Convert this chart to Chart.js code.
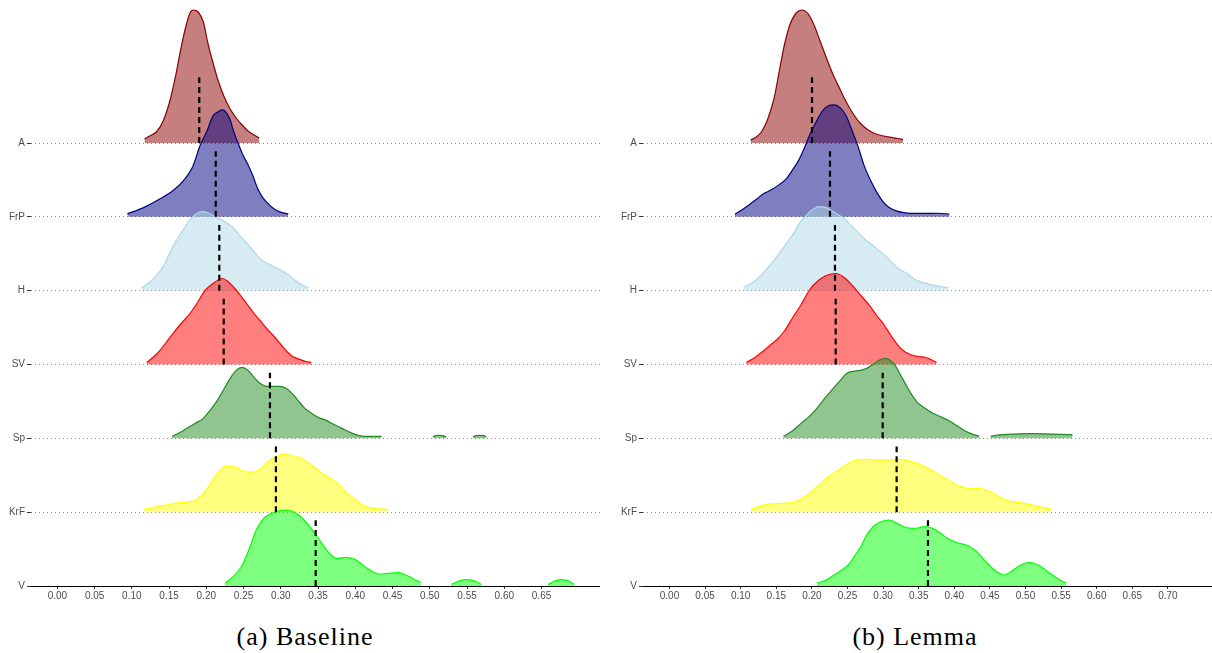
<!DOCTYPE html>
<html>
<head>
<meta charset="utf-8">
<script src="https://cdn.jsdelivr.net/npm/chart.js@4.4.1/dist/chart.umd.min.js"></script>
<style>
  html, body { margin: 0; padding: 0; background: #fff; width: 1212px; height: 653px; overflow: hidden; }
  body { position: relative; }
  .panel { position: absolute; top: 0; height: 604px; }
  #leftPanel { left: 0; width: 600px; }
  #rightPanel { left: 606px; width: 606px; }
  .cap { position: absolute; top: 624px; font-family: "Liberation Serif", "Times New Roman", serif; font-size: 26px;
         line-height: 26px; letter-spacing: 1px; color: #000; white-space: nowrap; transform: translateX(-50%); }
</style>
</head>
<body>
<div class="panel" id="leftPanel"><canvas id="chartBaseline"></canvas></div>
<div class="panel" id="rightPanel"><canvas id="chartLemma"></canvas></div>
<div class="cap" id="capLeft" style="left:305px"></div>
<div class="cap" id="capRight" style="left:915px"></div>
<script>
// ---- categories (top ridge first) ----
const groups = ['A', 'FrP', 'H', 'SV', 'Sp', 'KrF', 'V'];
const captions = ['(a) Baseline', '(b) Lemma'];

// ---- x tick labels ----
const baselineTicks = ['0.00','0.05','0.10','0.15','0.20','0.25','0.30','0.35','0.40','0.45','0.50','0.55','0.60','0.65'];
const lemmaTicks = ['0.00','0.05','0.10','0.15','0.20','0.25','0.30','0.35','0.40','0.45','0.50','0.55','0.60','0.65','0.70'];

// ---- group means (dashed markers) ----
const baselineMeans = [0.1905, 0.2126, 0.2174, 0.2233, 0.2854, 0.2934, 0.3468];
const lemmaMeans    = [0.2001, 0.2254, 0.2324, 0.2334, 0.2994, 0.3190, 0.3630];

// ---- density estimates, baseline system ----
const baseA_x = [0.117,0.124,0.134,0.142,0.151,0.159,0.166,0.173,0.178,0.183,0.189,0.196,0.202,0.209,0.216,0.224,0.232,0.240,0.248,0.256,0.264,0.271];
const baseA_d = [0.4,0.7,1.2,2.2,4.2,6.8,9.5,11.8,13.0,13.3,13.1,12.1,10.0,8.0,6.2,4.6,3.4,2.5,1.8,1.2,0.8,0.5];

const baseFrP_x = [0.094,0.115,0.138,0.155,0.169,0.181,0.192,0.201,0.209,0.216,0.221,0.226,0.232,0.236,0.243,0.249,0.256,0.263,0.269,0.276,0.286,0.295,0.303,0.310];
const baseFrP_d = [0.3,0.9,1.8,2.6,3.6,4.9,7.2,8.6,10.1,10.5,10.7,10.5,9.7,8.7,7.3,6.2,5.2,4.0,2.8,1.9,1.1,0.6,0.4,0.3];

const baseH_x = [0.113,0.128,0.142,0.155,0.169,0.178,0.187,0.196,0.205,0.214,0.225,0.236,0.245,0.255,0.263,0.272,0.280,0.288,0.299,0.310,0.320,0.328,0.337];
const baseH_d = [0.3,1.1,2.4,4.4,6.1,7.1,7.7,7.9,7.7,7.3,6.9,6.3,5.5,4.7,4.0,3.2,2.8,2.5,2.1,1.6,1.0,0.6,0.3];

const baseSV_x = [0.120,0.134,0.151,0.165,0.178,0.189,0.198,0.209,0.217,0.222,0.229,0.237,0.245,0.255,0.263,0.272,0.281,0.291,0.299,0.308,0.316,0.326,0.334,0.341];
const baseSV_d = [0.2,1.1,2.7,4.0,5.1,6.3,7.4,8.1,8.5,8.6,8.3,7.7,7.0,6.0,5.2,4.4,3.6,2.8,2.1,1.3,0.8,0.5,0.3,0.2];

const baseSp_x = [0.154,0.165,0.174,0.185,0.196,0.205,0.214,0.222,0.232,0.240,0.248,0.256,0.264,0.272,0.281,0.290,0.299,0.307,0.315,0.323,0.331,0.341,0.350,0.361,0.371,0.382,0.393,0.404,0.414,0.425,0.435];
const baseSp_d = [0.2,0.6,1.0,1.5,2.0,2.8,3.7,4.7,6.0,6.8,7.1,6.8,6.1,5.5,5.2,5.2,5.2,5.0,4.5,3.8,3.1,2.5,2.1,1.8,1.4,1.0,0.6,0.3,0.2,0.2,0.2];
const baseSpB_x = [0.504,0.508,0.513,0.517,0.522];
const baseSpB_d = [0.15,0.28,0.30,0.28,0.15];
const baseSpC_x = [0.558,0.562,0.567,0.572,0.576];
const baseSpC_d = [0.15,0.28,0.30,0.28,0.15];

const baseKrF_x = [0.116,0.131,0.145,0.159,0.175,0.185,0.194,0.205,0.213,0.221,0.230,0.239,0.247,0.255,0.263,0.271,0.279,0.287,0.295,0.304,0.312,0.323,0.334,0.345,0.355,0.366,0.377,0.386,0.396,0.406,0.416,0.426,0.436,0.444];
const baseKrF_d = [0.27,0.5,0.7,0.9,1.03,1.2,1.7,2.8,3.7,4.4,4.6,4.5,4.2,4.0,4.0,4.3,4.8,5.3,5.6,5.8,5.7,5.5,5.1,4.5,3.9,3.4,2.8,2.1,1.5,0.9,0.5,0.35,0.3,0.27];

const baseV_x = [0.225,0.236,0.247,0.257,0.267,0.277,0.286,0.293,0.300,0.308,0.316,0.324,0.331,0.339,0.347,0.355,0.365,0.375,0.388,0.401,0.409,0.416,0.424,0.432,0.440,0.447,0.457,0.465,0.473,0.480,0.488];
const baseV_d = [0.27,0.93,1.93,3.6,5.6,6.77,7.2,7.43,7.55,7.6,7.45,7.1,6.6,5.93,5.1,4.27,3.27,2.77,2.87,2.6,2.15,1.77,1.4,1.2,1.23,1.28,1.33,1.18,0.93,0.62,0.37];
const baseVB_x = [0.529,0.536,0.543,0.549,0.556,0.563,0.569];
const baseVB_d = [0.15,0.40,0.58,0.63,0.58,0.40,0.15];
const baseVC_x = [0.659,0.665,0.671,0.677,0.683,0.689,0.694];
const baseVC_d = [0.15,0.40,0.58,0.63,0.58,0.40,0.15];

// ---- density estimates, lemma system ----
const lemA_x = [0.114,0.122,0.130,0.138,0.147,0.155,0.162,0.169,0.178,0.186,0.195,0.203,0.211,0.221,0.230,0.240,0.249,0.259,0.269,0.279,0.290,0.301,0.313,0.321,0.328];
const lemA_d = [0.3,0.6,1.2,2.4,4.5,7.5,10.0,11.8,13.0,13.3,12.9,11.8,10.3,8.4,6.8,5.3,4.0,2.8,1.9,1.3,0.9,0.7,0.55,0.45,0.35];

const lemFrP_x = [0.092,0.102,0.113,0.123,0.131,0.143,0.155,0.164,0.172,0.181,0.189,0.197,0.206,0.214,0.223,0.231,0.240,0.248,0.256,0.265,0.273,0.282,0.290,0.299,0.308,0.318,0.329,0.345,0.360,0.377,0.393];
const lemFrP_d = [0.27,0.7,1.27,1.8,2.27,2.7,3.27,3.8,4.6,5.6,6.8,8.2,9.5,10.5,11.1,11.2,10.9,10.1,8.7,7.0,5.2,3.7,2.6,1.6,0.95,0.6,0.43,0.34,0.34,0.36,0.27];

const lemH_x = [0.104,0.116,0.127,0.138,0.151,0.162,0.174,0.183,0.193,0.203,0.211,0.220,0.228,0.237,0.247,0.258,0.268,0.277,0.286,0.296,0.306,0.314,0.324,0.334,0.343,0.352,0.362,0.372,0.381,0.392];
const lemH_d = [0.3,0.8,1.4,2.3,3.4,4.5,5.7,6.8,7.6,8.2,8.4,8.3,8.0,7.6,7.1,6.3,5.6,5.0,4.5,3.9,3.3,2.7,2.1,1.7,1.2,0.9,0.7,0.5,0.4,0.3];

const lemSV_x = [0.108,0.120,0.131,0.141,0.151,0.162,0.174,0.185,0.197,0.209,0.220,0.234,0.247,0.258,0.270,0.282,0.291,0.301,0.311,0.320,0.328,0.338,0.349,0.360,0.367,0.375];
const lemSV_d = [0.2,0.7,1.3,1.9,2.5,3.4,4.8,6.0,7.5,8.4,8.9,9.1,8.6,7.8,6.8,5.8,4.9,4.0,2.9,2.0,1.4,1.0,0.8,0.7,0.5,0.2];

const lemSp_x = [0.160,0.172,0.183,0.195,0.207,0.218,0.230,0.240,0.249,0.258,0.268,0.277,0.286,0.294,0.303,0.310,0.317,0.324,0.331,0.339,0.348,0.359,0.370,0.383,0.394,0.405,0.416,0.426,0.435];
const lemSp_d = [0.2,0.7,1.4,2.1,3.0,4.0,5.0,5.8,6.5,6.7,6.8,7.0,7.4,7.8,8.0,7.8,7.3,6.4,5.5,4.5,3.6,3.0,2.5,2.1,1.7,1.2,0.7,0.4,0.2];
const lemSpB_x = [0.451,0.464,0.485,0.506,0.527,0.549,0.566];
const lemSpB_d = [0.2,0.35,0.43,0.47,0.45,0.40,0.35];

const lemKrF_x = [0.114,0.126,0.138,0.148,0.160,0.168,0.177,0.183,0.193,0.203,0.215,0.225,0.237,0.248,0.259,0.275,0.286,0.297,0.310,0.324,0.341,0.355,0.368,0.381,0.396,0.407,0.418,0.425,0.434,0.442,0.451,0.461,0.473,0.482,0.494,0.505,0.516,0.526,0.536];
const lemKrF_d = [0.27,0.55,0.8,0.85,0.87,0.92,1.03,1.25,1.7,2.3,3.03,3.65,4.2,4.75,5.13,5.27,5.25,5.2,5.23,5.27,5.03,4.65,4.2,3.65,3.03,2.6,2.37,2.33,2.37,2.25,2.03,1.6,1.2,1.05,0.93,0.78,0.6,0.45,0.27];

const lemV_x = [0.207,0.220,0.231,0.242,0.253,0.261,0.270,0.277,0.286,0.297,0.308,0.316,0.324,0.332,0.341,0.349,0.357,0.366,0.374,0.381,0.390,0.398,0.407,0.414,0.420,0.427,0.434,0.442,0.451,0.460,0.470,0.478,0.486,0.495,0.505,0.513,0.522,0.530,0.538,0.547,0.557];
const lemV_d = [0.27,0.6,1.1,1.6,2.27,3.1,4.1,5.1,5.93,6.43,6.6,6.4,6.1,5.85,5.77,5.8,5.93,5.85,5.6,5.25,4.77,4.5,4.27,4.15,4.0,3.7,3.27,2.6,1.93,1.4,1.1,1.35,1.77,2.15,2.33,2.25,1.93,1.5,1.1,0.65,0.33];

// ---- styling ----
const lineColors = ['#8b0000', '#000080', '#add8e6', '#ff0000', '#228b22', '#ffff00', '#00ff00'];
const fillColors = ['rgba(139,0,0,0.5)', 'rgba(0,0,128,0.5)', 'rgba(173,216,230,0.5)', 'rgba(255,0,0,0.5)',
                    'rgba(34,139,34,0.5)', 'rgba(255,255,0,0.5)', 'rgba(0,255,0,0.5)'];
const DENSITY_SCALE = 10 / 73.83;   // density units -> ridge spacing units
const MEAN_LINE_HEIGHT = 0.89;      // height of the dashed mean marker, in ridge spacings
const Y_TOP = 7.937;                // upper limit of the ridge axis
const TICK_GREY = '#4d4d4d';

Chart.defaults.font.family = "'Liberation Sans', Arial, sans-serif";
Chart.defaults.font.size = 10;

// Turn one or more [x, density] pieces into line points; pieces are separated by gaps.
function buildPoints(pieces, base) {
  const pts = [];
  pieces.forEach(([xs, ds], k) => {
    if (k > 0) {
      const prev = pieces[k - 1][0];
      pts.push({ x: (prev[prev.length - 1] + xs[0]) / 2, y: null });
    }
    xs.forEach((x, j) => pts.push({ x: x, y: base + ds[j] * DENSITY_SCALE }));
  });
  return pts;
}

function makeRidgeChart(canvasId, ridges, means, tickLabels, xMin, xMax, axisWidth) {
  const n = groups.length;
  const datasets = [];
  means.forEach((m, i) => {
    const base = n - 1 - i;
    datasets.push({
      data: [{ x: m, y: base }, { x: m, y: base + MEAN_LINE_HEIGHT }],
      borderColor: '#000', borderWidth: 2.2, borderDash: [6, 4], borderCapStyle: 'butt',
      pointRadius: 0, fill: false, tension: 0, order: 0
    });
  });
  ridges.forEach((pieces, i) => {
    const base = n - 1 - i;
    datasets.push({
      data: buildPoints(pieces, base),
      borderColor: lineColors[i], backgroundColor: fillColors[i], borderWidth: 1.2,
      pointRadius: 0, fill: { value: base }, cubicInterpolationMode: 'monotone',
      spanGaps: false, order: n - i
    });
  });

  return new Chart(document.getElementById(canvasId), {
    type: 'line',
    data: { datasets: datasets },
    options: {
      responsive: true, maintainAspectRatio: false, animation: false,
      layout: { padding: 0 },
      plugins: { legend: { display: false }, tooltip: { enabled: false } },
      scales: {
        x: {
          type: 'linear', min: xMin, max: xMax, bounds: 'data',
          afterBuildTicks: s => { s.ticks = tickLabels.map(t => ({ value: parseFloat(t) })); },
          afterFit: s => { s.height = 18; s.paddingLeft = 0; s.paddingRight = 0; },
          ticks: { autoSkip: false, maxRotation: 0, minRotation: 0, padding: 1, color: TICK_GREY,
                   callback: (v, i) => tickLabels[i] },
          grid: { drawOnChartArea: false, drawTicks: true, tickLength: 3, tickColor: '#333', tickWidth: 1 },
          border: { display: true, color: '#000', width: 1 }
        },
        y: {
          type: 'linear', min: 0, max: Y_TOP, bounds: 'data',
          afterBuildTicks: s => { s.ticks = groups.map((g, i) => ({ value: n - 1 - i })); },
          afterFit: s => { s.width = axisWidth; s.paddingTop = 0; s.paddingBottom = 0; },
          ticks: { padding: 2, color: TICK_GREY, callback: v => groups[n - 1 - v] },
          grid: {
            color: c => (c.tick && c.tick.value === 0) ? 'rgba(0,0,0,0)' : '#8c8c8c',
            lineWidth: 1, drawTicks: true, tickLength: 4, tickColor: '#333', tickWidth: 1
          },
          border: { display: false, dash: [1, 3] }
        }
      }
    }
  });
}

makeRidgeChart('chartBaseline', [
  [[baseA_x, baseA_d]],
  [[baseFrP_x, baseFrP_d]],
  [[baseH_x, baseH_d]],
  [[baseSV_x, baseSV_d]],
  [[baseSp_x, baseSp_d], [baseSpB_x, baseSpB_d], [baseSpC_x, baseSpC_d]],
  [[baseKrF_x, baseKrF_d]],
  [[baseV_x, baseV_d], [baseVB_x, baseVB_d], [baseVC_x, baseVC_d]]
], baselineMeans, baselineTicks, -0.0354, 0.7285, 31);

makeRidgeChart('chartLemma', [
  [[lemA_x, lemA_d]],
  [[lemFrP_x, lemFrP_d]],
  [[lemH_x, lemH_d]],
  [[lemSV_x, lemSV_d]],
  [[lemSp_x, lemSp_d], [lemSpB_x, lemSpB_d]],
  [[lemKrF_x, lemKrF_d]],
  [[lemV_x, lemV_d]]
], lemmaMeans, lemmaTicks, -0.0372, 0.7619, 37);

document.getElementById('capLeft').textContent = captions[0];
document.getElementById('capRight').textContent = captions[1];
</script>
</body>
</html>
